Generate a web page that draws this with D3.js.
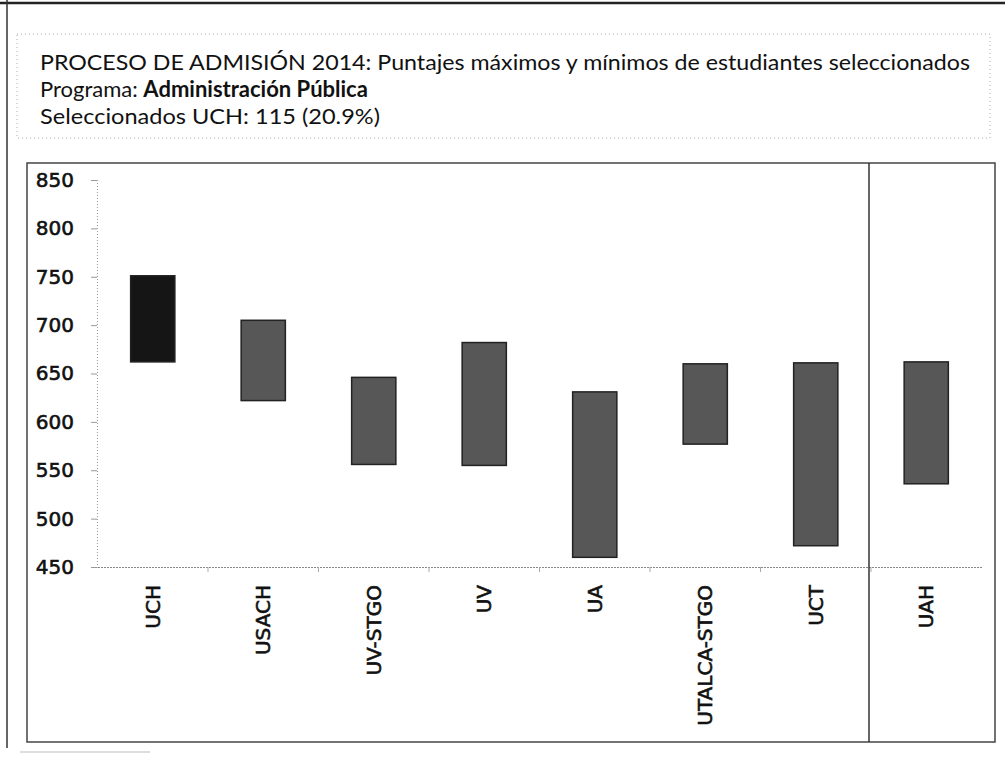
<!DOCTYPE html>
<html>
<head>
<meta charset="utf-8">
<script src="https://cdn.jsdelivr.net/npm/d3@7/dist/d3.min.js"></script>
<style>
  html, body { margin: 0; padding: 0; background: #fff; }
  svg { display: block; }
</style>
</head>
<body>
<svg id="chart" width="1005" height="758"></svg>
<script>
// ---- data ----
const categories = ["UCH", "USACH", "UV-STGO", "UV", "UA", "UTALCA-STGO", "UCT", "UAH"];
const maxScores = [751, 705, 646, 682, 631, 660, 661, 662];
const minScores = [662, 622, 556, 555, 460, 577, 472, 536];
const yTicks = [450, 500, 550, 600, 650, 700, 750, 800, 850];
const titleLine1 = "PROCESO DE ADMISIÓN 2014: Puntajes máximos y mínimos de estudiantes seleccionados";
const titleLine2a = "Programa: ";
const titleLine2b = "Administración Pública";
const titleLine3 = "Seleccionados UCH: 115 (20.9%)";

const svg = d3.select("#chart");

// page scan borders
svg.append("line").attr("x1", 0).attr("x2", 1005).attr("y1", 3).attr("y2", 3)
  .attr("stroke", "#222").attr("stroke-width", 2.5);
svg.append("line").attr("x1", 7).attr("x2", 7).attr("y1", 0).attr("y2", 748)
  .attr("stroke", "#333").attr("stroke-width", 1.5);
svg.append("line").attr("x1", 20).attr("x2", 150).attr("y1", 752).attr("y2", 752)
  .attr("stroke", "#bbb").attr("stroke-width", 1);

// title box
svg.append("rect").attr("x", 17).attr("y", 34).attr("width", 973).attr("height", 104)
  .attr("fill", "none").attr("stroke", "#aaa").attr("stroke-width", 1)
  .attr("stroke-dasharray", "1,3");

const tfont = "Lato, 'Open Sans', sans-serif";
svg.append("text").attr("x", 40).attr("y", 70)
  .attr("font-family", tfont).attr("font-size", 22).attr("fill", "#111")
  .attr("textLength", 930).attr("lengthAdjust", "spacingAndGlyphs")
  .text(titleLine1);
const t2 = svg.append("text").attr("x", 40).attr("y", 97)
  .attr("font-family", tfont).attr("font-size", 22).attr("fill", "#111");
t2.append("tspan").text(titleLine2a);
t2.append("tspan").attr("font-weight", "bold").text(titleLine2b);
svg.append("text").attr("x", 40).attr("y", 124)
  .attr("font-family", tfont).attr("font-size", 22).attr("fill", "#111")
  .attr("textLength", 340).attr("lengthAdjust", "spacingAndGlyphs")
  .text(titleLine3);

// chart frame
svg.append("rect").attr("x", 27).attr("y", 163).attr("width", 968).attr("height", 579)
  .attr("fill", "none").attr("stroke", "#444").attr("stroke-width", 1.5);

// scales
const x = d3.scaleBand().domain(categories).range([97.5, 981.5])
  .paddingInner(0.6).paddingOuter(0.3);
const y = d3.scaleLinear().domain([450, 850]).range([567, 180]);

// y axis
const yAxis = d3.axisLeft(y).tickValues(yTicks).tickSize(6).tickPadding(17);
const gy = svg.append("g").attr("transform", "translate(97,0)").call(yAxis);
gy.select(".domain").attr("stroke", "#999").attr("stroke-dasharray", "1,2");
gy.selectAll(".tick line").attr("stroke", "#999");
gy.selectAll(".tick text").attr("font-family", "'DejaVu Sans', sans-serif")
  .attr("font-size", 20).attr("fill", "#111")
  .attr("stroke", "#111").attr("stroke-width", 0.6);

// x axis
const xAxis = d3.axisBottom(x).tickSize(0).tickPadding(0);
const gx = svg.append("g").attr("transform", "translate(0,567)").call(xAxis);
gx.select(".domain").attr("stroke", "#888").attr("stroke-dasharray", "2,1");
gx.selectAll(".tick text")
  .attr("font-family", "'DejaVu Sans', sans-serif").attr("font-size", 20).attr("fill", "#111")
  .attr("stroke", "#111").attr("stroke-width", 0.6)
  .attr("text-anchor", "end")
  .attr("transform", "translate(0,18) rotate(-90)")
  .attr("x", 0).attr("y", 0).attr("dy", "0.36em");
// small boundary ticks
const bounds = categories.slice(1).map(c => x(c) - x.step() * x.paddingInner() / 2);
svg.append("g").selectAll("line").data(bounds).join("line")
  .attr("x1", d => d).attr("x2", d => d).attr("y1", 567).attr("y2", 572)
  .attr("stroke", "#aaa");

// divider before UAH
const divX = x("UAH") - x.step() * x.paddingInner() / 2 - 2;
svg.append("line").attr("x1", divX).attr("x2", divX).attr("y1", 163).attr("y2", 742)
  .attr("stroke", "#333").attr("stroke-width", 1.5);

// bars (floating min-max)
const rows = categories.map((c, i) => ({ c, max: maxScores[i], min: minScores[i] }));
svg.append("g").selectAll("rect").data(rows).join("rect")
  .attr("x", d => x(d.c))
  .attr("width", x.bandwidth())
  .attr("y", d => y(d.max))
  .attr("height", d => y(d.min) - y(d.max))
  .attr("fill", (d, i) => i === 0 ? "#151515" : "#575757")
  .attr("stroke", "#222").attr("stroke-width", 1.5);
</script>
</body>
</html>
